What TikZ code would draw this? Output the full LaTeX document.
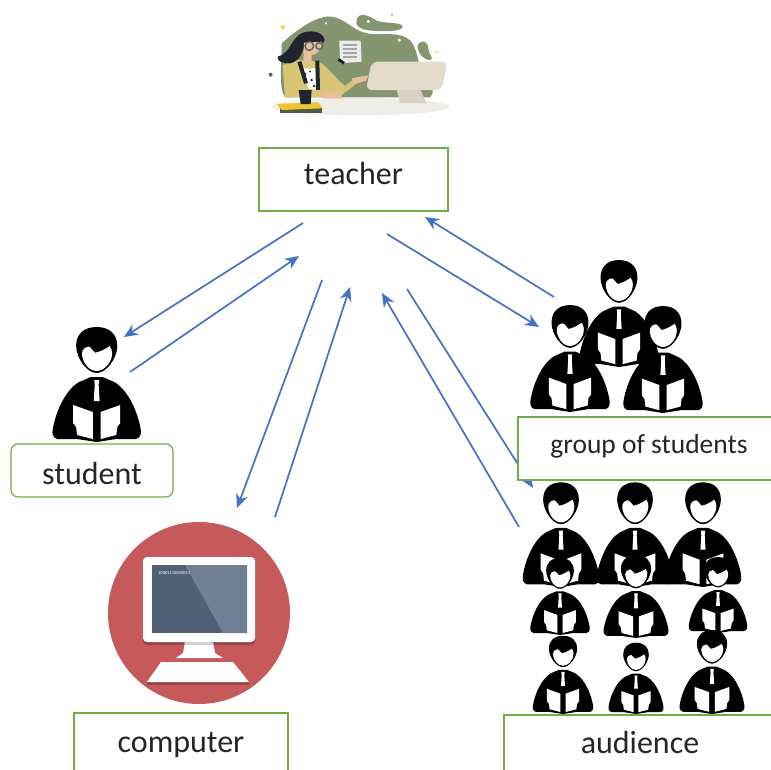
\documentclass[tikz,border=0pt]{standalone}
\usepackage{fontspec}
\setmainfont{Carlito}
\usetikzlibrary{arrows.meta}
\definecolor{boxgreen}{HTML}{70AD47}
\definecolor{arrowblue}{HTML}{4472C4}
\definecolor{iconred}{HTML}{C65A5A}
\definecolor{iconshadow}{HTML}{9A4343}
\definecolor{screendark}{HTML}{4F6077}
\definecolor{screenlight}{HTML}{718094}
\definecolor{blobgreen}{HTML}{84966F}
\definecolor{jacket}{HTML}{D8C674}
\definecolor{deskgrey}{HTML}{EEEDE8}
\definecolor{monbeige}{HTML}{E3DCCC}
\definecolor{monstand}{HTML}{D8D2C5}
\definecolor{skin}{HTML}{E9BE9C}
\definecolor{hair}{HTML}{20242E}
\definecolor{bookyellow}{HTML}{F0C333}
\tikzset{
  x=1pt,y=-1pt,
  labelbox/.style={draw=boxgreen,line width=1.2pt,fill=white,inner sep=0pt,text=black!85},
  flow/.style={draw=arrowblue,line width=1.7pt,-{Stealth[length=14pt,width=12pt]}},
  person/.pic={
    \fill[black] (-6,-65) -- (6,-65) -- (18,-60) .. controls (32,-52) and (42,-30) .. (45,-12)
      .. controls (46,-5) and (42,-2) .. (36,-3) -- (20,-3) -- (0,0) -- (-20,-3) -- (-36,-3)
      .. controls (-42,-2) and (-46,-5) .. (-45,-12) .. controls (-42,-30) and (-32,-52) .. (-18,-60) -- cycle;
    \fill[white] (-24,-37) -- (-4,-30) -- (-4,-3) -- (-20,-7) -- (-21,-15) -- (-24,-19) -- cycle;
    \fill[white] (24,-37) -- (4,-30) -- (4,-3) -- (20,-7) -- (21,-15) -- (24,-19) -- cycle;
    \fill[white] (-2.5,-62) -- (2.5,-62) -- (2,-57) -- (3,-41) -- (-3,-41) -- (-2,-57) -- cycle;
    \fill[black] (0,-115) .. controls (-14,-115) and (-21,-107) .. (-21,-96)
      .. controls (-21,-84) and (-10,-69) .. (0,-69) .. controls (10,-69) and (21,-84) .. (21,-96)
      .. controls (21,-107) and (14,-115) .. (0,-115) -- cycle;
    \fill[white] (-15,-88.7) .. controls (-15,-92) and (-12,-95.3) .. (-8,-95.3)
      .. controls (-6,-95) and (-4,-91) .. (-1.7,-89.3) .. controls (3,-90) and (9,-93) .. (13.3,-96)
      .. controls (15,-94) and (15.7,-91) .. (15.7,-88.7) .. controls (15.7,-80) and (8,-71) .. (0,-71)
      .. controls (-8,-71) and (-15,-80) .. (-15,-88.7) -- cycle;
  }
}
\begin{document}
\begin{tikzpicture}
\useasboundingbox (0,0) rectangle (771,769);
\clip (0,0) rectangle (771,769);
\fill[white] (0,0) rectangle (771,769);

% teacher illustration
\begin{scope}[shift={(240,0)},scale=1/3]
  \fill[deskgrey] (362,320) ellipse (268 and 26);
  \fill[blobgreen] (125,130) .. controls (170,90) and (230,45) .. (275,50) .. controls (320,55) and (340,100) .. (400,102)
    .. controls (450,104) and (500,95) .. (520,135) .. controls (540,175) and (530,200) .. (560,230)
    .. controls (585,260) and (580,285) .. (570,292) -- (135,292) .. controls (115,260) and (125,200) .. (125,130) -- cycle;
  \fill[blobgreen] (350,60) .. controls (355,35) and (385,45) .. (410,62) .. controls (440,72) and (490,65) .. (488,82)
    .. controls (480,98) and (400,95) .. (370,88) .. controls (355,82) and (345,75) .. (350,60) -- cycle;
  \fill[blobgreen] (533,135) .. controls (545,115) and (565,125) .. (565,145) .. controls (565,165) and (585,175) .. (570,180)
    .. controls (550,180) and (530,155) .. (533,135) -- cycle;
  \fill[white] (385,64) circle (5);
  \fill[white] (478,120) circle (5);
  \fill[white] (258,70) circle (4);
  \fill[blobgreen!70!black] (92,224) circle (6);
  \fill[black!30] (456,44) circle (4);
  \fill[bookyellow!70] (128,82) circle (7);
  \fill[bookyellow!70] (590,157) circle (4);
  % paper
  \fill[white!92!black] (298,122) -- (362,122) -- (365,185) -- (300,190) -- cycle;
  \foreach \yy in {135,147,159,171} \draw[black!35,line width=2pt] (310,\yy) -- (352,\yy);
  \draw[hair,line width=3pt] (295,178) -- (312,190);
  % person
  \fill[jacket] (128,195) -- (175,180) -- (235,185) .. controls (260,195) and (290,240) .. (315,258)
    -- (345,235) -- (350,250) -- (300,290) -- (135,292) -- cycle;
  \fill[skin] (335,235) -- (385,226) -- (378,242) -- (345,252) -- cycle;
  \fill[white] (188,205) -- (225,205) -- (235,272) -- (205,265) -- cycle;
  \fill[hair] (195,222) circle (4) (215,240) circle (4) (222,258) circle (4) (210,215) circle (3);
  \draw[hair,line width=4pt] (178,185) -- (198,250);
  \draw[hair,line width=4pt] (232,182) -- (234,270);
  \fill[hair] (178,104) .. controls (200,88) and (248,90) .. (254,120) .. controls (250,135) and (240,130) .. (205,125)
    .. controls (185,130) and (195,180) .. (150,190) .. controls (130,192) and (108,182) .. (113,170)
    .. controls (150,160) and (150,125) .. (178,104) -- cycle;
  \fill[skin] (192,128) -- (245,125) .. controls (245,150) and (230,165) .. (215,165) -- (215,195) -- (190,185) -- cycle;
  \draw[hair!70,line width=1.5pt] (208,138) circle (13) (238,138) circle (10);
  \fill[skin] (245,278) -- (300,278) -- (310,296) -- (250,296) -- cycle;
  % monitor
  \fill[monstand] (465,245) -- (530,245) -- (560,310) -- (480,310) -- cycle;
  \fill[monbeige,rounded corners=6pt] (395,185) -- (622,185) -- (605,270) -- (378,270) -- cycle;
  % desk items
  \fill[blobgreen!60!black] (120,325) -- (245,325) -- (245,340) -- (120,340) -- cycle;
  \fill[bookyellow] (110,312) -- (235,307) -- (248,325) -- (125,330) -- cycle;
  \fill[hair] (176,270) -- (215,270) -- (212,312) -- (182,312) -- cycle;
\end{scope}

% coordinates for arrow ends
\coordinate (a1s) at (303,223); \coordinate (a1e) at (124,337);
\coordinate (a2s) at (130,372); \coordinate (a2e) at (299,256);
\coordinate (a3s) at (322,280); \coordinate (a3e) at (237,508);
\coordinate (a4s) at (275,517); \coordinate (a4e) at (350,287);
\coordinate (a5s) at (519,527); \coordinate (a5e) at (382,293);
\coordinate (a6s) at (407,289); \coordinate (a6e) at (533,488);
\coordinate (a7s) at (387,234); \coordinate (a7e) at (539,327);
\coordinate (a8s) at (554,297); \coordinate (a8e) at (425,217);
\draw[flow] (a1s) -- (a1e);
\draw[flow] (a2s) -- (a2e);
\draw[flow] (a3s) -- (a3e);
\draw[flow] (a4s) -- (a4e);
\draw[flow] (a5s) -- (a5e);
\draw[flow] (a6s) -- (a6e);
\draw[flow] (a7s) -- (a7e);
\draw[flow] (a8s) -- (a8e);

% student
\pic[xscale=.98] at (96.7,442) {person};

% group
\pic[xscale=.88,yscale=.93] at (619,367) {person};
\pic[xscale=.88,yscale=.93] at (570,412) {person};
\pic[xscale=.88,yscale=.93] at (663,413) {person};

% audience
\pic[xscale=.85,yscale=.91] at (561,587) {person};
\pic[xscale=.85,yscale=.91] at (635,587) {person};
\pic[xscale=.85,yscale=.91] at (703,587) {person};
\pic[xscale=.66,yscale=.67] at (560,635) {person};
\pic[xscale=.72,yscale=.72] at (636,638) {person};
\pic[xscale=.65,yscale=.66] at (718,633) {person};
\pic[xscale=.67,yscale=.68] at (563,714) {person};
\pic[xscale=.61,yscale=.62] at (636,714) {person};
\pic[xscale=.72,yscale=.73] at (712,714) {person};

% computer icon
\fill[iconred] (199,613) circle (91);
\fill[iconshadow,rounded corners=4pt] (143,560) rectangle (255,645);
\fill[white,rounded corners=4pt] (143,557) rectangle (255,642);
\fill[screendark] (152,565) rectangle (247,633);
\fill[screenlight] (185,565) -- (247,565) -- (247,633) -- (223,633) -- cycle;
\node[text=white,font=\fontsize{4.5}{5}\selectfont,inner sep=0pt,anchor=west] (bits) at (158,573) {10001110000011};
\fill[white] (185,642) -- (213,642) -- (215,653) -- (223,658) -- (176,658) -- (183,653) -- cycle;
\fill[black!18] (185,642) rectangle (213,645);
\fill[iconshadow] (147,682) rectangle (249,685);
\fill[white] (161,662) -- (233,662) -- (249,682) -- (147,682) -- cycle;

% labels
\node[labelbox,minimum width=189pt,minimum height=63pt,font=\fontsize{32}{36}\selectfont] (teacher) at (353.5,179.5) {\raisebox{13pt}{teacher}};
\node[labelbox,rounded corners=7pt,minimum width=162pt,minimum height=53pt,font=\fontsize{32}{36}\selectfont] (student) at (92,470.5) {\raisebox{-14pt}[0pt][0pt]{student}};
\node[labelbox,minimum width=214pt,minimum height=60pt,font=\fontsize{32}{36}\selectfont] (computer) at (181,743) {\raisebox{-9pt}[0pt][0pt]{computer}};
\node[labelbox,minimum width=262pt,minimum height=63pt,font=\fontsize{27.5}{32}\selectfont] (group) at (649,448.5) {\raisebox{9pt}{group of students}};
\node[labelbox,fill=none,minimum width=272pt,minimum height=58pt,font=\fontsize{32}{36}\selectfont] (audience) at (640,744) {\raisebox{4pt}{audience}};
\end{tikzpicture}
\end{document}
